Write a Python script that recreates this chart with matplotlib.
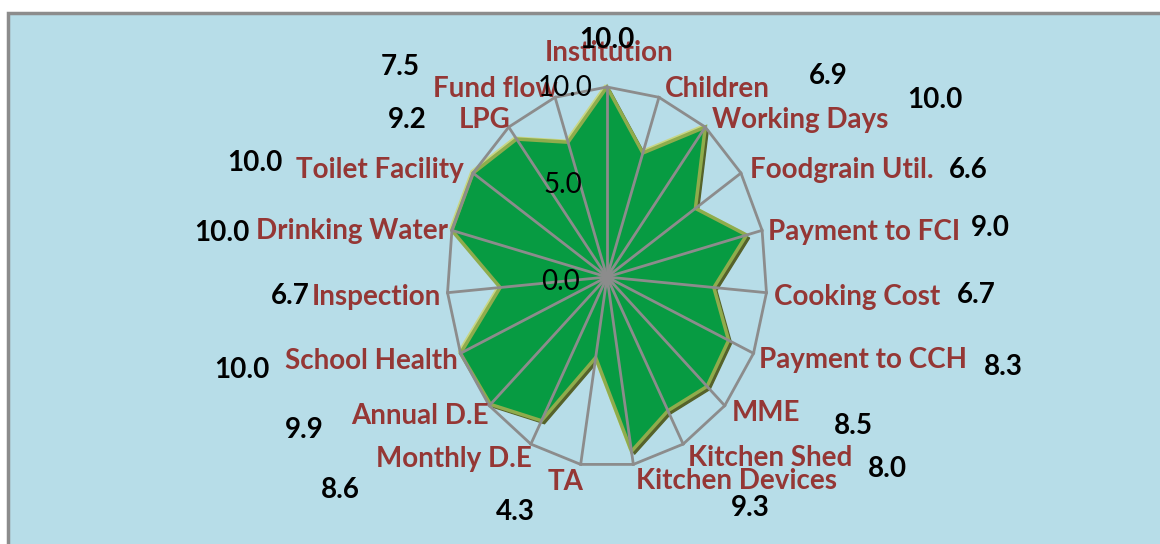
import numpy as np
import matplotlib
matplotlib.use("Agg")
import matplotlib.pyplot as plt
from matplotlib.patches import Rectangle
import matplotlib.transforms as mtransforms

categories = ["Institution", "Children", "Working Days", "Foodgrain Util.", "Payment to FCI",
              "Cooking Cost", "Payment to CCH", "MME", "Kitchen Shed", "Kitchen Devices",
              "TA", "Monthly D.E", "Annual D.E", "School Health", "Inspection",
              "Drinking Water", "Toilet Facility", "LPG", "Fund flow"]
values = [10.0, 6.9, 10.0, 6.6, 9.0, 6.7, 8.3, 8.5, 8.0, 9.3,
          4.3, 8.6, 9.9, 10.0, 6.7, 10.0, 10.0, 9.2, 7.5]
tick_values = [0.0, 5.0, 10.0]
tick_labels = ["0.0", "5.0", "10.0"]

# label positions in pixels (x, y from top) - layout only
cat_pos = [(609, 53), (717, 89), (800, 120), (842, 170), (864, 232), (857, 297), (863, 360),
           (766, 413), (770, 458), (737, 481), (566, 482), (454, 459), (420, 416), (371, 361),
           (376, 297), (352, 231), (380, 170), (485, 120), (495, 89)]
val_pos = [(607, 40), (828, 76), (935, 100), (968, 170), (990, 228), (976, 295), (1003, 367),
           (853, 426), (887, 469), (750, 508), (515, 512), (340, 490), (304, 430), (242, 370),
           (290, 296), (222, 233), (255, 163), (407, 120), (400, 67)]
tick_pos = [(560, 282), (563, 185), (565, 88)]

W, H = 1160, 544
fig = plt.figure(figsize=(W / 100, H / 100), dpi=100, facecolor="white")

def fx(x): return x / W
def fy(y): return 1 - y / H

fig.patches.append(Rectangle((fx(8), fy(H + 20)), fx(W + 20), fy(13) - fy(H + 20),
                             transform=fig.transFigure, facecolor="#b7dde8",
                             edgecolor="#8c8c8c", linewidth=2.5, zorder=-5))

cx, cy, RX, RY = 607, 277, 160, 190
ax = fig.add_axes([fx(cx - RX), fy(cy + RY), (2 * RX) / W, (2 * RY) / H], projection="polar")
ax.set_aspect("auto")
ax.set_zorder(1)
ax.set_theta_zero_location("N")
ax.set_theta_direction(-1)
ax.set_ylim(0, 10)
ax.patch.set_alpha(0)
ax.grid(False)
ax.spines["polar"].set_visible(False)
ax.set_xticks([])
ax.set_yticks([])

n = len(categories)
angles = np.linspace(0, 2 * np.pi, n, endpoint=False)
a_closed = np.append(angles, angles[0])
v_closed = np.append(values, values[0])

# bevel: shadow (lower right) and highlight (upper left)
shadow = mtransforms.offset_copy(ax.transData, fig=fig, x=3, y=-3, units="dots")
light = mtransforms.offset_copy(ax.transData, fig=fig, x=-2, y=2, units="dots")
ax.fill(a_closed, v_closed, color="#55622a", transform=shadow, zorder=2, clip_on=False)
ax.fill(a_closed, v_closed, color="#c9d684", transform=light, zorder=2, clip_on=False)
ax.fill(a_closed, v_closed, facecolor="#079b42", edgecolor="#8fac4c", linewidth=2.5, zorder=3,
        clip_on=False)

# grid
ax.plot(a_closed, np.full(n + 1, tick_values[-1]), color="#8c8c8c", linewidth=2, zorder=4,
        clip_on=False)
for a in angles:
    ax.plot([a, a], [0, tick_values[-1]], color="#8c8c8c", linewidth=2, zorder=4, clip_on=False)
ax.plot([0], [0], marker="o", color="#8c8c8c", markersize=7, zorder=5)

fam = ["Lato", "DejaVu Sans"]
for lab, (x, y) in zip(categories, cat_pos):
    fig.text(fx(x), fy(y), lab, ha="center", va="center", color="#953735",
             fontsize=20, fontweight="bold", family=fam, zorder=10)
for v, (x, y) in zip(values, val_pos):
    fig.text(fx(x), fy(y), f"{v:.1f}", ha="center", va="center", color="black",
             fontsize=20, fontweight="bold", family=fam, zorder=10)
for t, (x, y) in zip(tick_labels, tick_pos):
    fig.text(fx(x), fy(y), t, ha="center", va="center", color="black",
             fontsize=20, family=fam, zorder=10)

fig.savefig("out.png", dpi=100)
